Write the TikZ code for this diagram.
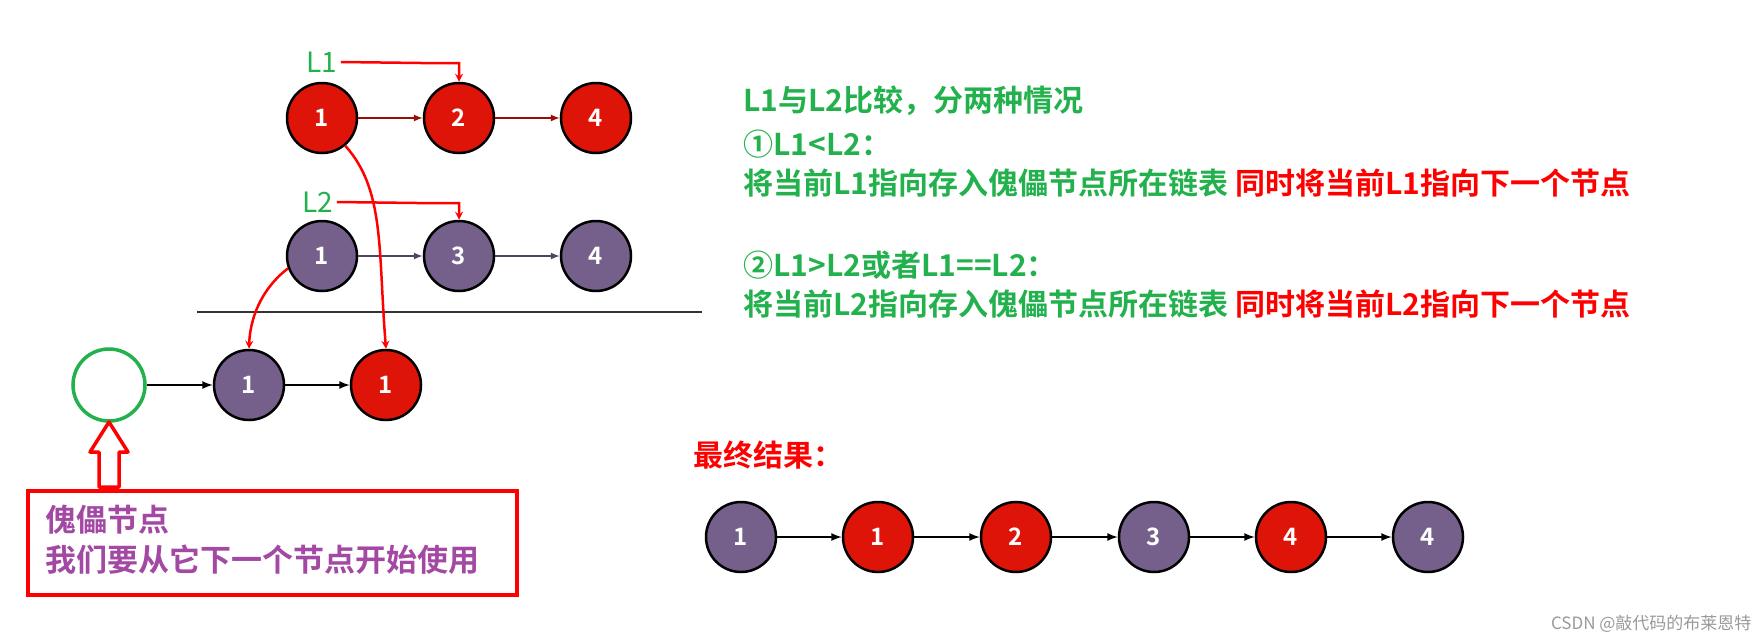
\documentclass[tikz,border=0pt]{standalone}
\usepackage{fontspec}
\setmainfont{Noto Sans CJK SC}
\newfontfamily\cjkb{Noto Sans CJK SC Bold}
\usetikzlibrary{arrows}
\definecolor{nodered}{RGB}{222,20,8}
\definecolor{nodepurple}{RGB}{117,96,139}
\definecolor{txtgreen}{RGB}{34,177,76}
\definecolor{txtpurple}{RGB}{163,73,164}

\begin{document}
\begin{tikzpicture}
    [
        x=1pt, y=-1pt,
        rednode/.style = {draw, shape=circle, minimum size=70pt, line width=2.5pt, fill=nodered, text=white, font=\cjkb\fontsize{24}{24}\selectfont},
        purplenode/.style = {draw, shape=circle, minimum size=70pt, line width=2.5pt, fill=nodepurple, text=white, font=\cjkb\fontsize{24}{24}\selectfont},
        headnode/.style = {draw=txtgreen, shape=circle, minimum size=72pt, line width=3.5pt},
        listname/.style = {text=txtgreen, font=\fontsize{28}{28}\selectfont},
        note/.style = {anchor=west, font=\cjkb\fontsize{30}{30}\selectfont},
        pointer/.style = {draw=red, line width=2.5pt, -stealth},
    ]
    \useasboundingbox (0,0) rectangle (1761,643);

    % L1 and L2
    \node[rednode] (a1) at (322,118) {1};
    \node[rednode] (a2) at (459,118) {2};
    \node[rednode] (a4) at (596,118) {4};
    \node[purplenode] (b1) at (322,256) {1};
    \node[purplenode] (b3) at (459,256) {3};
    \node[purplenode] (b4) at (596,256) {4};
    \node[listname] (l1) at (322,62) {L1};
    \node[listname] (l2) at (318,202) {L2};

    \draw [-latex, line width=2pt, draw=nodered!70!black] (a1) -- (a2);
    \draw [-latex, line width=2pt, draw=nodered!70!black] (a2) -- (a4);
    \draw [-latex, line width=2pt, draw=nodepurple!70!black] (b1) -- (b3);
    \draw [-latex, line width=2pt, draw=nodepurple!70!black] (b3) -- (b4);

    % divider
    \coordinate (sepl) at (197,312);
    \coordinate (sepr) at (702,312);
    \draw [line width=2.5pt, draw=black!80] (sepl) -- (sepr);

    % merged list
    \node[headnode] (h) at (109,385) {};
    \node[purplenode] (c1) at (249,385) {1};
    \node[rednode] (c2) at (386,385) {1};
    \draw [-latex, line width=2.5pt] (h) -- (c1);
    \draw [-latex, line width=2.5pt] (c1) -- (c2);

    % pointers
    \draw [pointer] (l1.east) -- ++(80,1) -| (a2.north);
    \draw [pointer] (l2.east) -- ++(80,1) -| (b3.north);
    \draw [pointer] (a1.-50) .. controls (385,190) and (378,250) .. (c2.north);
    \draw [pointer] (b1.-160) .. controls (260,290) and (250,320) .. (c1.north);

    % dummy head
    \draw [draw=red, line width=3.5pt, line join=round]
        (109,422) -- (128,452) -- (119,452) -- (119,487) -- (99,487) -- (99,452) -- (90,452) -- cycle;
    \node[draw=red, line width=3.5pt, minimum width=489pt, minimum height=104pt] (box) at (272.5,543) {};
    \node[note, text=txtpurple, font=\cjkb\fontsize{31}{31}\selectfont] (t1) at (42,520) {傀儡节点};
    \node[note, text=txtpurple, font=\cjkb\fontsize{31}{31}\selectfont] (t2) at (42,560) {我们要从它下一个节点开始使用};

    % rules
    \node[note, text=txtgreen] (r1) at (740,101) {L1与L2比较，分两种情况};
    \node[note, text=txtgreen] (r2) at (740,144) {①L1<L2：};
    \node[note, text=txtgreen] (r3) at (740,183) {将当前L1指向存入傀儡节点所在链表 \textcolor{red}{同时将当前L1指向下一个节点}};
    \node[note, text=txtgreen] (r4) at (740,265) {②L1>L2或者L1==L2：};
    \node[note, text=txtgreen] (r5) at (740,304) {将当前L2指向存入傀儡节点所在链表 \textcolor{red}{同时将当前L2指向下一个节点}};
    \node[note, text=red] (r6) at (690,455) {最终结果：};

    % result
    \node[purplenode] (d1) at (741,537) {1};
    \node[rednode] (d2) at (878,537) {1};
    \node[rednode] (d3) at (1016,537) {2};
    \node[purplenode] (d4) at (1154,537) {3};
    \node[rednode] (d5) at (1291,537) {4};
    \node[purplenode] (d6) at (1428,537) {4};
    \draw [-latex, line width=2.5pt] (d1) -- (d2);
    \draw [-latex, line width=2.5pt] (d2) -- (d3);
    \draw [-latex, line width=2.5pt] (d3) -- (d4);
    \draw [-latex, line width=2.5pt] (d4) -- (d5);
    \draw [-latex, line width=2.5pt] (d5) -- (d6);

    \node[anchor=east, text=black!40, font=\fontsize{17}{17}\selectfont] (wm) at (1755,624) {CSDN @敲代码的布莱恩特};
\end{tikzpicture}
\end{document}
